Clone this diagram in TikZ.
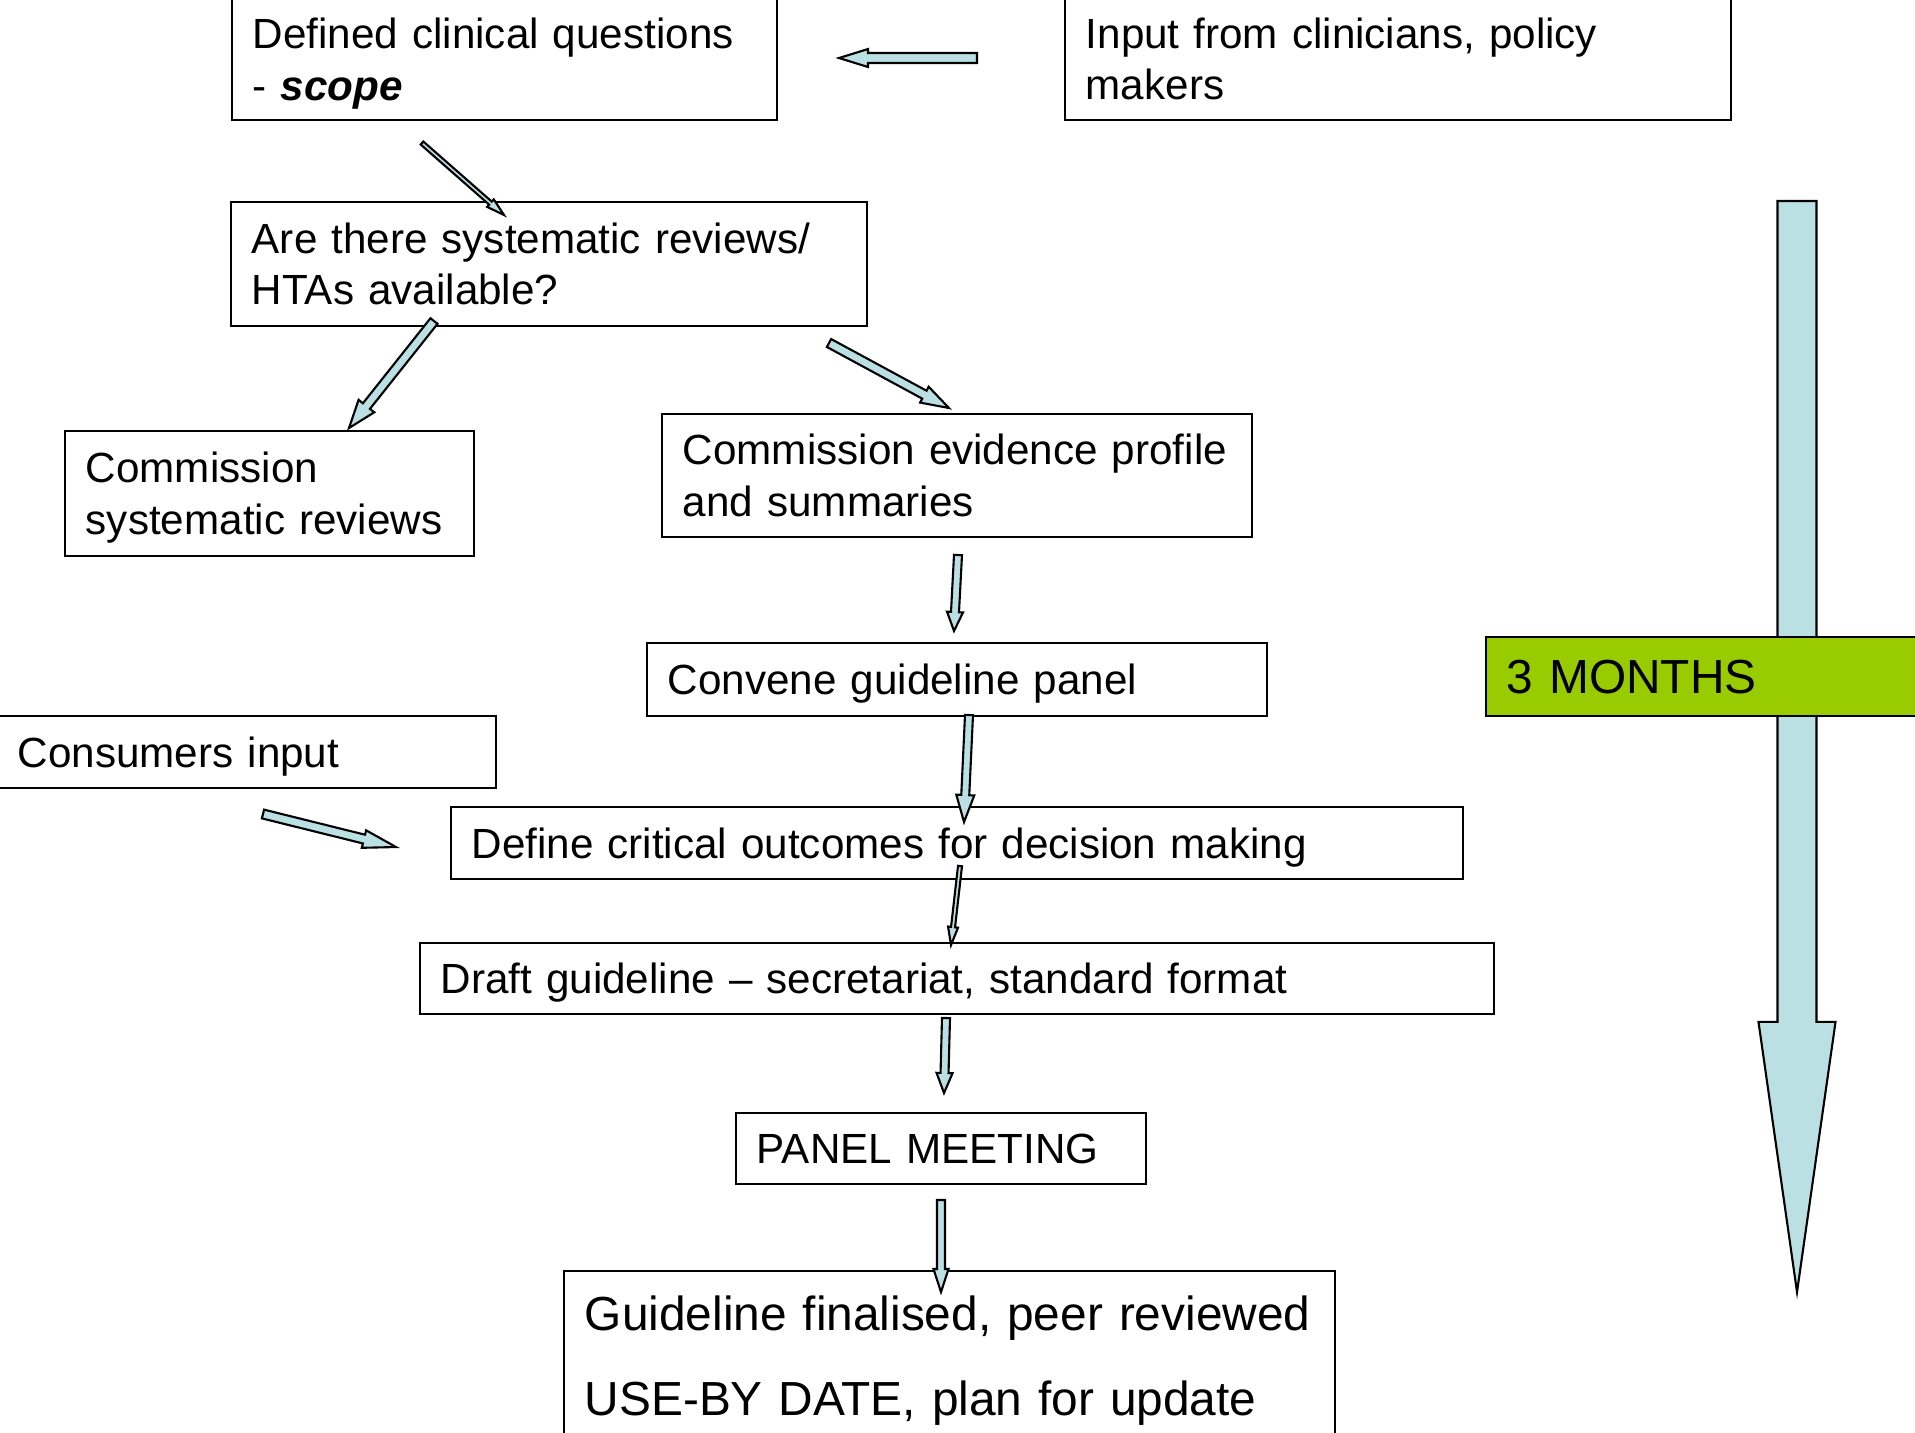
\documentclass[tikz,border=0pt]{standalone}
\usepackage{fontspec}
\setmainfont{Liberation Sans}
\usetikzlibrary{calc}
\definecolor{arrowblue}{RGB}{187,224,227}
\definecolor{monthsgreen}{RGB}{153,204,0}

% block arrow: from, to, half shaft, half head, head length
\newcommand{\blockarrow}[5]{%
  \coordinate (bh) at ($(#2)!#5!(#1)$);
  \draw [flow] ($(#1)!#3!90:(#2)$) -- ($(bh)!#3!-90:(#1)$) -- ($(bh)!#4!-90:(#1)$) -- (#2)
    -- ($(bh)!#4!90:(#1)$) -- ($(bh)!#3!90:(#1)$) -- ($(#1)!#3!-90:(#2)$) -- cycle;}
% last line without depth
\newcommand{\nodp}[1]{\raisebox{0pt}[\height][0pt]{#1}}

\begin{document}
\begin{tikzpicture}[x=0.01cm, y=-0.01cm,
  box/.style={draw, line width=0.6pt, align=left, inner xsep=0.21cm, inner ysep=0pt,
    font=\fontsize{12}{14.7}\selectfont},
  onebox/.style={box, text depth=0pt},
  flow/.style={draw, fill=arrowblue, line width=0.6pt, line join=miter}]
 \useasboundingbox (0,0) rectangle (1915,1432);
 \clip (0,0) rectangle (1915,1432);

 \node (qs) [box, text width=5.03cm, minimum height=1.22cm] at (504.5,59) {Defined clinical questions\\\nodp{- \textbf{\textit{scope}}}};
 \node (input) [box, text width=6.24cm, minimum height=1.22cm] at (1398,59) {Input from clinicians, policy\\makers};
 \node (avail) [box, text width=5.94cm, minimum height=1.24cm] at (549,264) {Are there systematic reviews/\\HTAs available?};
 \node (commsr) [box, text width=3.67cm, minimum height=1.25cm] at (269.5,493.5) {Commission\\\nodp{systematic reviews}};
 \node (commep) [box, text width=5.48cm, minimum height=1.23cm] at (957,475.5) {Commission evidence profile\\and summaries};
 \node (convene) [onebox, text width=5.78cm, minimum height=0.73cm] at (957,679.5) {Convene guideline panel};
 \node (consumers) [onebox, text width=4.57cm, minimum height=0.72cm] at (246.5,752) {Consumers input};
 \node (outcomes) [onebox, text width=9.70cm, minimum height=0.72cm] at (957,843) {Define critical outcomes for decision making};
 \node (draft) [onebox, text width=10.32cm, minimum height=0.71cm] at (957,978.5) {Draft guideline -- secretariat, standard format};
 \node (meeting) [onebox, text width=3.68cm, minimum height=0.71cm] at (941,1148.5) {PANEL MEETING};
 \node (final) [box, text width=7.29cm, minimum height=1.69cm, font=\fontsize{13.6}{24.2}\selectfont] at (949.5,1355.5) {Guideline finalised, peer reviewed\\\nodp{USE-BY DATE, plan for update}};

 % arrow ends
 \coordinate (s1) at (977,58);   \coordinate (t1) at (839,58);
 \coordinate (s2) at (422,143);  \coordinate (t2) at (504,215);
 \coordinate (s3) at (434,321);  \coordinate (t3) at (349,428);
 \coordinate (s4) at (829,343);  \coordinate (t4) at (949,408);
 \coordinate (s5) at (958,555);  \coordinate (t5) at (954,631);
 \coordinate (s6) at (969,715);  \coordinate (t6) at (964,822);
 \coordinate (s7) at (263,814);  \coordinate (t7) at (396,847);
 \coordinate (s8) at (960,866);  \coordinate (t8) at (951,945);
 \coordinate (s9) at (946,1018); \coordinate (t9) at (944,1093);
 \coordinate (s10) at (941,1200); \coordinate (t10) at (941,1292);
 \coordinate (s0) at (1797,201); \coordinate (t0) at (1797,1292);

 \blockarrow{s1}{t1}{0.05cm}{0.09cm}{0.29cm}
 \blockarrow{s2}{t2}{0.02cm}{0.05cm}{0.18cm}
 \blockarrow{s3}{t3}{0.045cm}{0.10cm}{0.28cm}
 \blockarrow{s4}{t4}{0.045cm}{0.09cm}{0.28cm}
 \blockarrow{s5}{t5}{0.04cm}{0.08cm}{0.19cm}
 \blockarrow{s6}{t6}{0.04cm}{0.09cm}{0.27cm}
 \blockarrow{s7}{t7}{0.045cm}{0.09cm}{0.33cm}
 \blockarrow{s8}{t8}{0.02cm}{0.05cm}{0.18cm}
 \blockarrow{s9}{t9}{0.04cm}{0.08cm}{0.20cm}
 \blockarrow{s10}{t10}{0.04cm}{0.075cm}{0.23cm}
 \blockarrow{s0}{t0}{0.195cm}{0.385cm}{2.70cm}

 \node (months) [onebox, fill=monthsgreen, text width=4.08cm, minimum height=0.79cm,
   font=\fontsize{13.6}{16}\selectfont] at (1711,676.5) {3 MONTHS};
\end{tikzpicture}
\end{document}
